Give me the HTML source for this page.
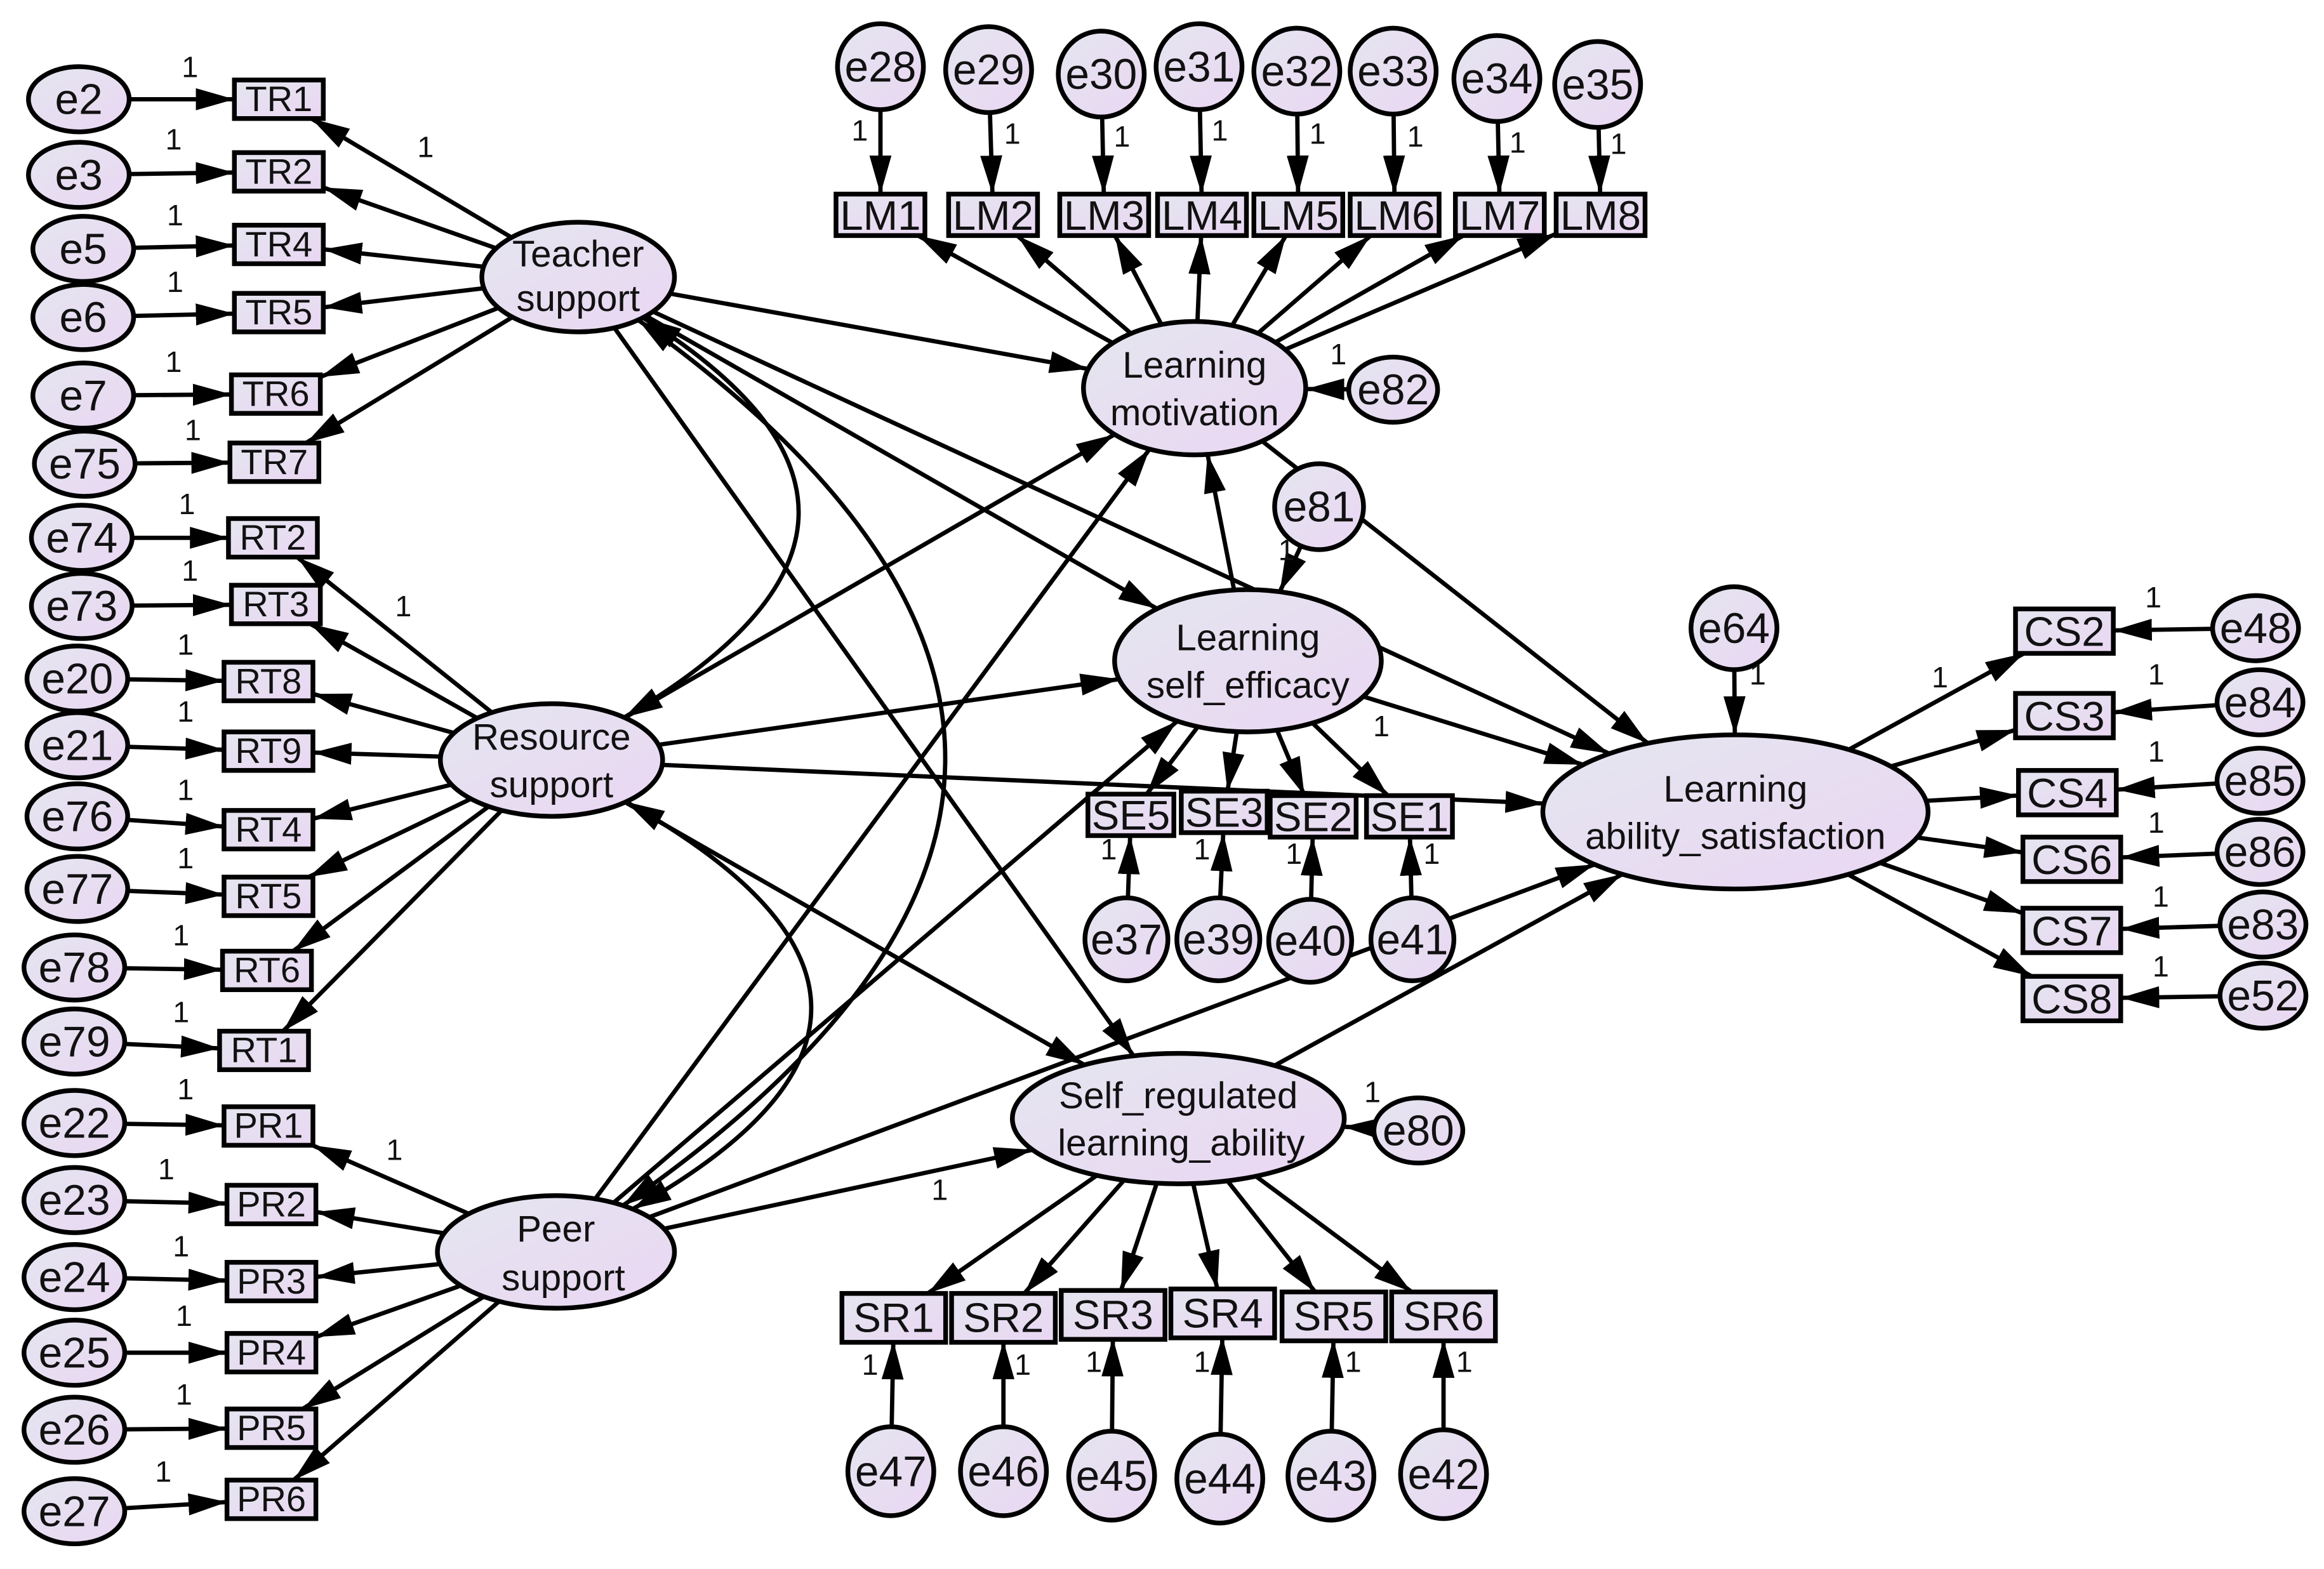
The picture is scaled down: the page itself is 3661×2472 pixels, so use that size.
<!DOCTYPE html>
<html><head><meta charset="utf-8">
<style>
html,body{margin:0;padding:0;background:#fff;}
svg{display:block;}
text{font-family:"Liberation Sans",Arial,sans-serif;fill:#111;}
</style></head>
<body>
<svg id="s" width="3661" height="2472" viewBox="0 0 1568 1059" xmlns="http://www.w3.org/2000/svg">
<defs>
<linearGradient id="g" x1="0" y1="0" x2="1" y2="1">
<stop offset="0" stop-color="#e4e6f0"/><stop offset="1" stop-color="#ead6f2"/>
</linearGradient>
<marker id="a" viewBox="0 0 14 8" markerWidth="26" markerHeight="15" refX="14" refY="4" orient="auto-start-reverse" markerUnits="userSpaceOnUse">
<path d="M0,0 L14,4 L0,8 z" fill="#000"/>
</marker>
</defs>
<g id="lines" stroke="#000" stroke-width="2.9" fill="none"></g>
<g id="nodes" stroke="#000" stroke-width="3.2" fill="url(#g)">
<ellipse cx="53" cy="67" rx="34" ry="22"/><ellipse cx="53" cy="118" rx="34" ry="22"/>
<ellipse cx="56" cy="168" rx="34" ry="22"/><ellipse cx="56" cy="214" rx="34" ry="22"/>
<ellipse cx="56" cy="267" rx="34" ry="22"/><ellipse cx="57" cy="313" rx="34" ry="22"/>
<ellipse cx="55" cy="363" rx="34" ry="22"/><ellipse cx="55" cy="409" rx="34" ry="22"/>
<ellipse cx="52" cy="458" rx="34" ry="22"/><ellipse cx="52" cy="503" rx="34" ry="22"/>
<ellipse cx="52" cy="551" rx="34" ry="22"/><ellipse cx="52" cy="600" rx="34" ry="22"/>
<ellipse cx="50" cy="653" rx="34" ry="22"/><ellipse cx="50" cy="703" rx="34" ry="22"/>
<ellipse cx="50" cy="758" rx="34" ry="22"/><ellipse cx="50" cy="810" rx="34" ry="22"/>
<ellipse cx="50" cy="862" rx="34" ry="22"/><ellipse cx="50" cy="913" rx="34" ry="22"/>
<ellipse cx="50" cy="965" rx="34" ry="22"/><ellipse cx="50" cy="1020" rx="34" ry="22"/>
<rect x="158" y="54" width="60" height="26"/><rect x="158" y="103" width="60" height="26"/>
<rect x="158" y="152" width="60" height="26"/><rect x="158" y="198" width="60" height="26"/>
<rect x="156" y="253" width="60" height="26"/><rect x="155" y="299" width="60" height="26"/>
<rect x="154" y="350" width="60" height="26"/><rect x="156" y="395" width="60" height="26"/>
<rect x="151" y="447" width="60" height="26"/><rect x="151" y="494" width="60" height="26"/>
<rect x="151" y="547" width="60" height="26"/><rect x="151" y="592" width="60" height="26"/>
<rect x="150" y="642" width="60" height="26"/><rect x="148" y="696" width="60" height="26"/>
<rect x="151" y="747" width="60" height="26"/><rect x="153" y="800" width="60" height="26"/>
<rect x="153" y="852" width="60" height="26"/><rect x="153" y="900" width="60" height="26"/>
<rect x="153" y="951" width="60" height="26"/><rect x="153" y="999" width="60" height="26"/>
<ellipse cx="390" cy="187" rx="65" ry="37"/>
<ellipse cx="372" cy="513" rx="75" ry="38"/>
<ellipse cx="375" cy="845" rx="80" ry="38"/>
<ellipse cx="806" cy="262" rx="75" ry="45"/>
<ellipse cx="842" cy="446" rx="90" ry="48"/>
<ellipse cx="795" cy="755" rx="112" ry="44"/>
<ellipse cx="1171" cy="548" rx="130" ry="52"/>
<rect x="564" y="131" width="60" height="28"/><rect x="640" y="131" width="60" height="28"/>
<rect x="715" y="131" width="60" height="28"/><rect x="781" y="131" width="60" height="28"/>
<rect x="846" y="131" width="60" height="28"/><rect x="911" y="131" width="60" height="28"/>
<rect x="982" y="131" width="60" height="28"/><rect x="1050" y="131" width="60" height="28"/>
<ellipse cx="594" cy="45" rx="29" ry="29"/><ellipse cx="667" cy="47" rx="29" ry="29"/>
<ellipse cx="743" cy="50" rx="29" ry="29"/><ellipse cx="809" cy="45" rx="29" ry="29"/>
<ellipse cx="875" cy="48" rx="29" ry="29"/><ellipse cx="940" cy="48" rx="29" ry="29"/>
<ellipse cx="1010" cy="53" rx="29" ry="29"/><ellipse cx="1078" cy="57" rx="29" ry="29"/>
<ellipse cx="940" cy="263" rx="30" ry="22"/>
<ellipse cx="890" cy="342" rx="30" ry="29"/>
<ellipse cx="1170" cy="424" rx="29" ry="28"/>
<rect x="734" y="536" width="58" height="28"/><rect x="797" y="534" width="58" height="28"/>
<rect x="857" y="537" width="58" height="28"/><rect x="922" y="537" width="58" height="28"/>
<ellipse cx="760" cy="634" rx="28" ry="28"/><ellipse cx="822" cy="634" rx="28" ry="28"/>
<ellipse cx="884" cy="635" rx="28" ry="28"/><ellipse cx="953" cy="634" rx="28" ry="28"/>
<ellipse cx="957" cy="763" rx="30" ry="22"/>
<rect x="568" y="873" width="70" height="33"/><rect x="642" y="873" width="70" height="33"/>
<rect x="716" y="871" width="70" height="33"/><rect x="790" y="870" width="70" height="33"/>
<rect x="865" y="872" width="70" height="33"/><rect x="939" y="872" width="70" height="33"/>
<ellipse cx="601" cy="993" rx="29" ry="30"/><ellipse cx="677" cy="993" rx="29" ry="30"/>
<ellipse cx="750" cy="996" rx="29" ry="30"/><ellipse cx="823" cy="998" rx="29" ry="30"/>
<ellipse cx="898" cy="996" rx="29" ry="30"/><ellipse cx="974" cy="995" rx="29" ry="30"/>
<rect x="1360" y="411" width="66" height="30"/><rect x="1360" y="468" width="66" height="30"/>
<rect x="1362" y="520" width="66" height="30"/><rect x="1365" y="565" width="66" height="30"/>
<rect x="1365" y="613" width="66" height="30"/><rect x="1365" y="659" width="66" height="30"/>
<ellipse cx="1522" cy="424" rx="29" ry="22"/><ellipse cx="1525" cy="474" rx="29" ry="22"/>
<ellipse cx="1525" cy="527" rx="29" ry="22"/><ellipse cx="1525" cy="575" rx="29" ry="22"/>
<ellipse cx="1527" cy="624" rx="29" ry="22"/><ellipse cx="1527" cy="672" rx="29" ry="22"/>
</g>
<g font-size="29" text-anchor="middle">
<text x="53" y="77">e2</text><text x="53" y="128">e3</text><text x="56" y="178">e5</text><text x="56" y="224">e6</text>
<text x="56" y="277">e7</text><text x="57" y="323">e75</text><text x="55" y="373">e74</text><text x="55" y="419">e73</text>
<text x="52" y="468">e20</text><text x="52" y="513">e21</text><text x="52" y="561">e76</text><text x="52" y="610">e77</text>
<text x="50" y="663">e78</text><text x="50" y="713">e79</text><text x="50" y="768">e22</text><text x="50" y="820">e23</text>
<text x="50" y="872">e24</text><text x="50" y="923">e25</text><text x="50" y="975">e26</text><text x="50" y="1030">e27</text>
<text x="594" y="55">e28</text><text x="667" y="57">e29</text><text x="743" y="60">e30</text><text x="809" y="55">e31</text>
<text x="875" y="58">e32</text><text x="940" y="58">e33</text><text x="1010" y="63">e34</text><text x="1078" y="67">e35</text>
<text x="940" y="273">e82</text><text x="890" y="352">e81</text><text x="1170" y="434">e64</text>
<text x="760" y="644">e37</text><text x="822" y="644">e39</text><text x="884" y="645">e40</text><text x="953" y="644">e41</text>
<text x="957" y="773">e80</text>
<text x="601" y="1003">e47</text><text x="677" y="1003">e46</text><text x="750" y="1006">e45</text><text x="823" y="1008">e44</text>
<text x="898" y="1006">e43</text><text x="974" y="1005">e42</text>
<text x="1522" y="434">e48</text><text x="1525" y="484">e84</text><text x="1525" y="537">e85</text><text x="1525" y="585">e86</text>
<text x="1527" y="634">e83</text><text x="1527" y="682">e52</text>
</g>
<g font-size="24" text-anchor="middle">
<text x="188" y="75">TR1</text><text x="188" y="124">TR2</text><text x="188" y="173">TR4</text><text x="188" y="219">TR5</text>
<text x="186" y="274">TR6</text><text x="185" y="320">TR7</text><text x="184" y="371">RT2</text><text x="186" y="416">RT3</text>
<text x="181" y="468">RT8</text><text x="181" y="515">RT9</text><text x="181" y="568">RT4</text><text x="181" y="613">RT5</text>
<text x="180" y="663">RT6</text><text x="178" y="717">RT1</text><text x="181" y="768">PR1</text><text x="183" y="821">PR2</text>
<text x="183" y="873">PR3</text><text x="183" y="921">PR4</text><text x="183" y="972">PR5</text><text x="183" y="1020">PR6</text>
</g>
<g font-size="28" text-anchor="middle">
<text x="594" y="155">LM1</text><text x="670" y="155">LM2</text><text x="745" y="155">LM3</text><text x="811" y="155">LM4</text>
<text x="876" y="155">LM5</text><text x="941" y="155">LM6</text><text x="1012" y="155">LM7</text><text x="1080" y="155">LM8</text>
<text x="763" y="560">SE5</text><text x="826" y="558">SE3</text><text x="886" y="561">SE2</text><text x="951" y="561">SE1</text>
<text x="603" y="899">SR1</text><text x="677" y="899">SR2</text><text x="751" y="897">SR3</text><text x="825" y="896">SR4</text>
<text x="900" y="898">SR5</text><text x="974" y="898">SR6</text>
<text x="1393" y="436">CS2</text><text x="1393" y="493">CS3</text><text x="1395" y="545">CS4</text><text x="1398" y="590">CS6</text>
<text x="1398" y="638">CS7</text><text x="1398" y="684">CS8</text>
</g>
<g font-size="25" text-anchor="middle">
<text x="390" y="180">Teacher</text><text x="390" y="210">support</text>
<text x="372" y="506">Resource</text><text x="372" y="538">support</text>
<text x="375" y="838">Peer</text><text x="380" y="871">support</text>
<text x="806" y="255">Learning</text><text x="806" y="287">motivation</text>
<text x="842" y="439">Learning</text><text x="842" y="471">self_efficacy</text>
<text x="795" y="748">Self_regulated</text><text x="797" y="780">learning_ability</text>
<text x="1171" y="541">Learning</text><text x="1171" y="573">ability_satisfaction</text>
</g>
<g font-size="20" text-anchor="middle">
<text x="128" y="52">1</text><text x="117" y="101">1</text><text x="118" y="152">1</text><text x="118" y="197">1</text>
<text x="117" y="251">1</text><text x="130" y="297">1</text><text x="126" y="347">1</text><text x="128" y="392">1</text>
<text x="125" y="442">1</text><text x="125" y="487">1</text><text x="125" y="540">1</text><text x="125" y="586">1</text>
<text x="122" y="638">1</text><text x="122" y="690">1</text><text x="125" y="742">1</text><text x="112" y="796">1</text>
<text x="122" y="848">1</text><text x="124" y="895">1</text><text x="124" y="948">1</text><text x="110" y="1000">1</text>
<text x="287" y="106">1</text><text x="272" y="416">1</text><text x="266" y="783">1</text>
<text x="580" y="95">1</text><text x="683" y="97">1</text><text x="757" y="99">1</text><text x="823" y="95">1</text>
<text x="889" y="97">1</text><text x="955" y="99">1</text><text x="1024" y="103">1</text><text x="1092" y="104">1</text>
<text x="903" y="246">1</text><text x="868" y="378">1</text><text x="1186" y="462">1</text><text x="926" y="744">1</text>
<text x="932" y="497">1</text><text x="634" y="810">1</text><text x="1309" y="464">1</text>
<text x="748" y="580">1</text><text x="811" y="580">1</text><text x="873" y="583">1</text><text x="966" y="583">1</text>
<text x="587" y="928">1</text><text x="690" y="928">1</text><text x="738" y="926">1</text><text x="811" y="926">1</text>
<text x="913" y="926">1</text><text x="988" y="926">1</text>
<text x="1453" y="410">1</text><text x="1455" y="462">1</text><text x="1455" y="514">1</text><text x="1455" y="562">1</text>
<text x="1458" y="612">1</text><text x="1458" y="659">1</text>
</g>
<script>
var N={
T:['e',390,187,65,37],R:['e',372,513,75,38],P:['e',375,845,80,38],
LM:['e',806,262,75,45],SE:['e',842,446,90,48],SR:['e',795,755,112,44],LA:['e',1171,548,130,52]};
function add(k,t,x,y,a,b){N[k]=[t,x,y,a,b];}
var L=[[53,67,188,67],[53,118,188,116],[56,168,188,165],[56,214,188,211],[56,267,186,266],[57,313,185,312],
[55,363,184,363],[55,409,186,408],[52,458,181,460],[52,503,181,507],[52,551,181,560],[52,600,181,605],[50,653,180,655],[50,703,178,709],
[50,758,181,760],[50,810,183,813],[50,862,183,865],[50,913,183,913],[50,965,183,964],[50,1020,183,1012]];
var E=[];
L.forEach(function(v,i){add('le'+i,'e',v[0],v[1],34,22);add('lb'+i,'r',v[2],v[3],30,13);E.push(['le'+i,'lb'+i]);
 E.push([i<6?'T':(i<14?'R':'P'),'lb'+i]);});
var LMx=[594,670,745,811,876,941,1012,1080],LMe=[[594,45],[667,47],[743,50],[809,45],[875,48],[940,48],[1010,53],[1078,57]];
LMx.forEach(function(x,i){add('mb'+i,'r',x,145,30,14);add('me'+i,'e',LMe[i][0],LMe[i][1],29,29);E.push(['me'+i,'mb'+i]);E.push(['LM','mb'+i]);});
var SEx=[[763,550],[826,548],[886,551],[951,551]],SEe=[760,822,884,953];
SEx.forEach(function(v,i){add('sb'+i,'r',v[0],v[1],29,14);add('se'+i,'e',SEe[i],634,28,28);E.push(['se'+i,'sb'+i]);E.push(['SE','sb'+i]);});
var SRx=[[603,889],[677,889],[751,887],[825,886],[900,888],[974,888]],SRe=[[601,993],[677,993],[750,996],[823,998],[898,996],[974,995]];
SRx.forEach(function(v,i){add('rb'+i,'r',v[0],v[1],35,16);add('re'+i,'e',SRe[i][0],SRe[i][1],29,30);E.push(['re'+i,'rb'+i]);E.push(['SR','rb'+i]);});
var CSx=[[1393,426],[1393,483],[1395,535],[1398,580],[1398,628],[1398,674]],CSe=[[1522,424],[1525,474],[1525,527],[1525,575],[1527,624],[1527,672]];
CSx.forEach(function(v,i){add('cb'+i,'r',v[0],v[1],33,15);add('ce'+i,'e',CSe[i][0],CSe[i][1],29,22);E.push(['ce'+i,'cb'+i]);E.push(['LA','cb'+i]);});
add('e82','e',940,263,30,22);add('e81','e',890,342,30,29);add('e64','e',1170,424,29,28);add('e80','e',957,763,30,22);
E.push(['e82','LM'],['e81','SE'],['e64','LA'],['e80','SR']);
E.push(['T','LM'],['T','SE'],['T','SR'],['T','LA'],['R','LM'],['R','SE'],['R','SR'],['R','LA'],
['P','LM'],['P','SE'],['P','SR'],['P','LA'],['SE','LM'],['LM','LA'],['SE','LA'],['SR','LA']);
function bd(n,tx,ty){var dx=tx-n[1],dy=ty-n[2];if(n[0]=='e'){var t=1/Math.sqrt(Math.pow(dx/n[3],2)+Math.pow(dy/n[4],2));return [n[1]+dx*t,n[2]+dy*t];}
var t=Math.min(n[3]/Math.abs(dx||1e-9),n[4]/Math.abs(dy||1e-9));return [n[1]+dx*t,n[2]+dy*t];}
var g=document.getElementById('lines'),ns='http://www.w3.org/2000/svg';
E.forEach(function(e){var a=N[e[0]],b=N[e[1]];var p=bd(a,b[1],b[2]),q=bd(b,a[1],a[2]);
var l=document.createElementNS(ns,'line');l.setAttribute('x1',p[0]);l.setAttribute('y1',p[1]);l.setAttribute('x2',q[0]);l.setAttribute('y2',q[1]);
l.setAttribute('marker-end','url(#a)');g.appendChild(l);});
[['T','R',650,350],['T','P',850,516],['R','P',670,680]].forEach(function(c){var a=N[c[0]],b=N[c[1]];var p=bd(a,c[2],c[3]),q=bd(b,c[2],c[3]);
var pa=document.createElementNS(ns,'path');pa.setAttribute('d','M'+p[0]+','+p[1]+' Q'+c[2]+','+c[3]+' '+q[0]+','+q[1]);
pa.setAttribute('marker-start','url(#a)');pa.setAttribute('marker-end','url(#a)');g.appendChild(pa);});
</script>
</svg>
</body></html>
